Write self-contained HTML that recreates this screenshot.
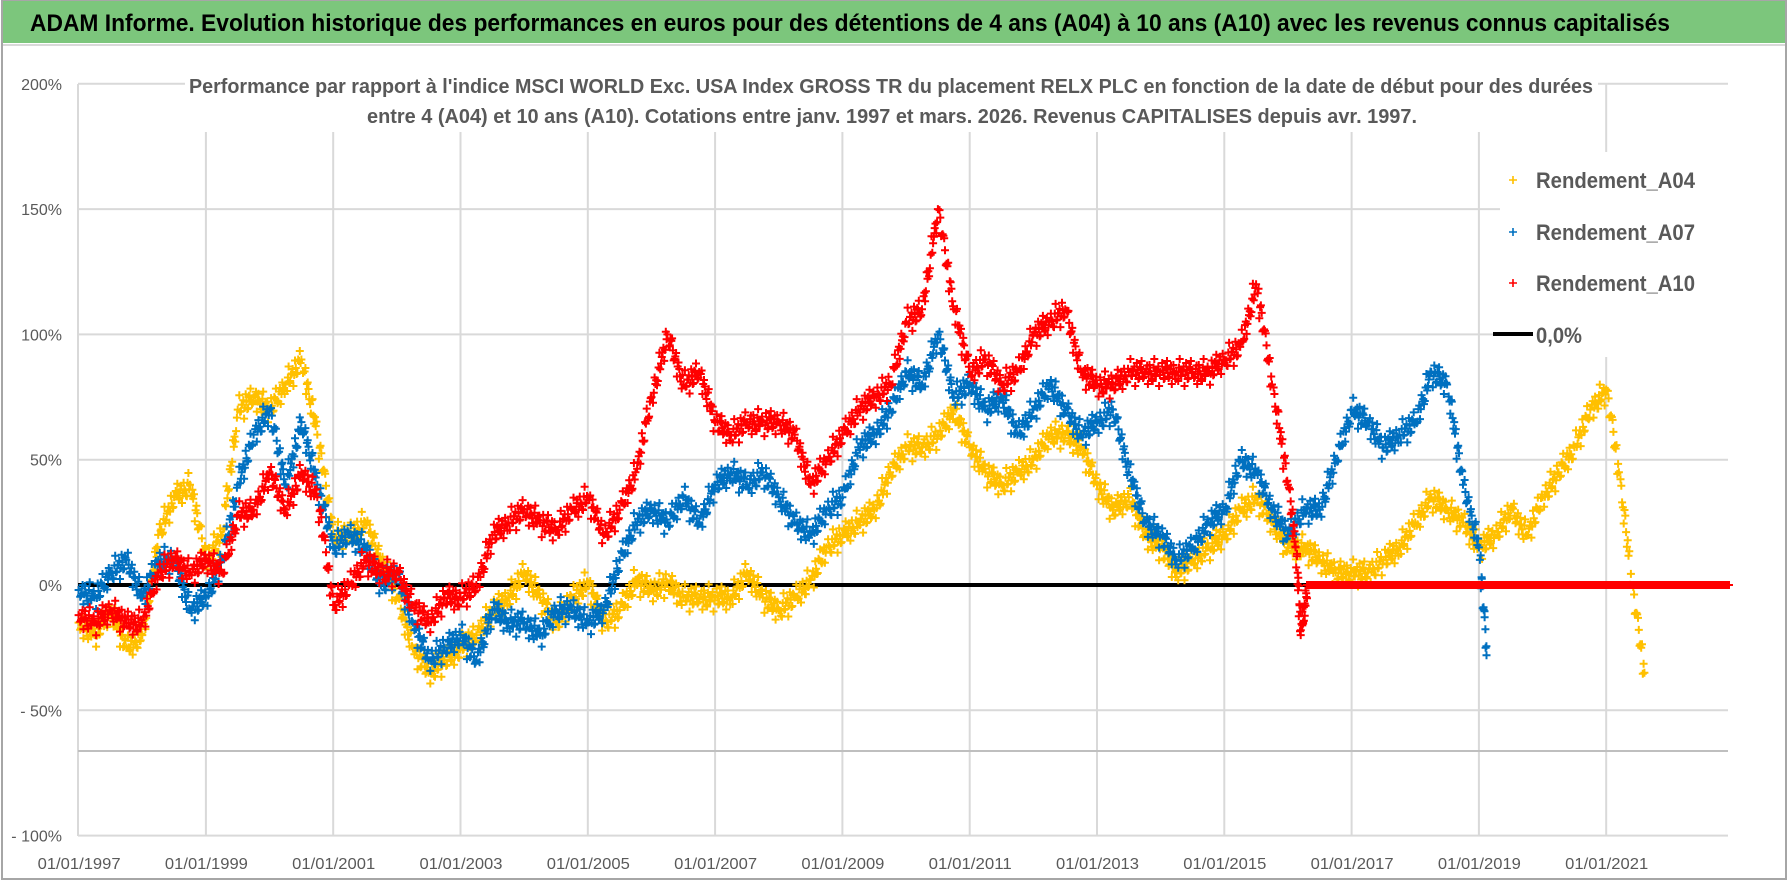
<!DOCTYPE html>
<html><head><meta charset="utf-8"><title>ADAM Informe RELX</title>
<style>
html,body{margin:0;padding:0;background:#fff;}
svg{display:block;}
text{font-family:"Liberation Sans",sans-serif;}
</style></head>
<body>
<svg id="chart" width="1790" height="886" viewBox="0 0 1790 886" xmlns="http://www.w3.org/2000/svg">
  <rect x="0" y="0" width="1790" height="886" fill="#ffffff"/>
  <rect x="2" y="0" width="1784" height="879" fill="none" stroke="#a6a6a6" stroke-width="2"/>
  <rect x="3" y="1" width="1782" height="42" fill="#7cc67c"/>
  <line x1="3" y1="45" x2="1785" y2="45" stroke="#d9d9d9" stroke-width="2"/>
  <text x="30" y="31" font-size="24" font-weight="bold" fill="#000" textLength="1640" lengthAdjust="spacingAndGlyphs">ADAM Informe. Evolution historique des performances en euros pour des détentions de 4 ans (A04) à 10 ans (A10) avec les revenus connus capitalisés</text>
  <g id="grid"></g>
  <line x1="78" y1="751" x2="1728" y2="751" stroke="#bfbfbf" stroke-width="2"/>
  <line id="zeroline" stroke="#000" stroke-width="4"/>
  <g id="marks"></g>
  <rect x="185" y="62" width="1413" height="70" fill="#fff"/>
  <text x="189" y="93" font-size="20" font-weight="bold" fill="#595959" textLength="1404" lengthAdjust="spacingAndGlyphs">Performance par rapport à l'indice MSCI WORLD Exc. USA Index GROSS TR  du placement RELX PLC en fonction de la date de début pour des durées</text>
  <text x="367" y="123" font-size="20" font-weight="bold" fill="#595959" textLength="1050" lengthAdjust="spacingAndGlyphs">entre 4 (A04) et 10 ans (A10).  Cotations entre janv. 1997 et mars. 2026. Revenus CAPITALISES depuis avr. 1997.</text>
  <g id="yaxis"></g>
  <g id="xaxis"></g>
  <g id="legend">
    <rect x="1500" y="152" width="228" height="205" fill="#fff"/>
    <g>
      <path d="M1509 180h8M1513 176v8" stroke="#ffc000" stroke-width="1.6"/>
      <text x="1536" y="188" font-size="22" font-weight="bold" fill="#595959" textLength="159" lengthAdjust="spacingAndGlyphs">Rendement_A04</text>
    </g>
    <g>
      <path d="M1509 232h8M1513 228v8" stroke="#0070c0" stroke-width="1.6"/>
      <text x="1536" y="240" font-size="22" font-weight="bold" fill="#595959" textLength="159" lengthAdjust="spacingAndGlyphs">Rendement_A07</text>
    </g>
    <g>
      <path d="M1509 283h8M1513 279v8" stroke="#ff0000" stroke-width="1.6"/>
      <text x="1536" y="291" font-size="22" font-weight="bold" fill="#595959" textLength="159" lengthAdjust="spacingAndGlyphs">Rendement_A10</text>
    </g>
    <g>
      <line x1="1493" y1="334" x2="1533" y2="334" stroke="#000" stroke-width="4"/>
      <text x="1536" y="343" font-size="22" font-weight="bold" fill="#595959" textLength="46" lengthAdjust="spacingAndGlyphs">0,0%</text>
    </g>
  </g>
</svg>
<script>
const yTicks = [200, 150, 100, 50, 0, -50, -100];
const yTickLabels = ["200%", "150%", "100%", "50%", "0%", "- 50%", "- 100%"];
const xTickYears = [1997, 1999, 2001, 2003, 2005, 2007, 2009, 2011, 2013, 2015, 2017, 2019, 2021];
const xTickLabels = ["01/01/1997","01/01/1999","01/01/2001","01/01/2003","01/01/2005","01/01/2007","01/01/2009","01/01/2011","01/01/2013","01/01/2015","01/01/2017","01/01/2019","01/01/2021"];

const datesA04 = [1997,1997.25,1997.5,1997.75,1998,1998.25,1998.5,1998.75,1999,1999.25,1999.5,1999.75,2000,2000.25,2000.5,2000.75,2001,2001.25,2001.5,2001.75,2002,2002.25,2002.5,2002.75,2003,2003.25,2003.5,2003.75,2004,2004.25,2004.5,2004.75,2005,2005.25,2005.5,2005.75,2006,2006.25,2006.5,2006.75,2007,2007.25,2007.5,2007.75,2008,2008.25,2008.5,2008.75,2009,2009.25,2009.5,2009.75,2010,2010.25,2010.5,2010.75,2011,2011.25,2011.5,2011.75,2012,2012.25,2012.5,2012.75,2013,2013.25,2013.5,2013.75,2014,2014.25,2014.5,2014.75,2015,2015.25,2015.5,2015.75,2016,2016.25,2016.5,2016.75,2017,2017.25,2017.5,2017.75,2018,2018.25,2018.5,2018.75,2019,2019.25,2019.5,2019.75,2020,2020.25,2020.5,2020.75,2021,2021.2,2021.4,2021.6];
const valuesA04 = [-15,-20,-10,-25,-20,20,35,40,10,20,70,75,70,80,90,60,20,20,25,10,-5,-25,-35,-30,-25,-20,-10,-5,5,-5,-15,-5,1,-15,-10,2,-2,1,-5,-5,-5,-5,5,-5,-10,-5,2,15,20,25,30,45,55,55,60,70,55,45,40,45,50,60,60,55,40,30,35,20,15,5,10,15,20,30,35,25,15,15,10,5,5,5,10,15,25,35,30,25,15,20,30,20,35,45,55,70,78,45,0,-35];

const datesA07 = [1997,1997.25,1997.5,1997.75,1998,1998.25,1998.5,1998.75,1999,1999.25,1999.5,1999.75,2000,2000.25,2000.5,2000.75,2001,2001.25,2001.5,2001.75,2002,2002.25,2002.5,2002.75,2003,2003.25,2003.5,2003.75,2004,2004.25,2004.5,2004.75,2005,2005.25,2005.5,2005.75,2006,2006.25,2006.5,2006.75,2007,2007.25,2007.5,2007.75,2008,2008.25,2008.5,2008.75,2009,2009.25,2009.5,2009.75,2010,2010.25,2010.5,2010.75,2011,2011.25,2011.5,2011.75,2012,2012.25,2012.5,2012.75,2013,2013.25,2013.5,2013.75,2014,2014.25,2014.5,2014.75,2015,2015.25,2015.5,2015.75,2016,2016.25,2016.5,2016.75,2017,2017.25,2017.5,2017.75,2018,2018.25,2018.5,2018.75,2019,2019.12];
const valuesA07 = [-2,-5,5,10,-5,10,10,-10,-5,10,40,60,70,40,65,40,15,20,15,0,5,-15,-30,-25,-20,-30,-10,-15,-15,-20,-10,-10,-15,-10,10,25,30,25,35,25,40,45,40,45,35,25,20,30,35,55,60,70,85,80,100,75,80,70,75,60,70,80,70,60,65,70,45,25,20,10,15,25,30,50,45,30,20,30,30,50,70,65,55,60,65,85,80,40,15,-28];

const datesA10 = [1997,1997.25,1997.5,1997.75,1998,1998.25,1998.5,1998.75,1999,1999.25,1999.5,1999.75,2000,2000.25,2000.5,2000.75,2001,2001.25,2001.5,2001.75,2002,2002.25,2002.5,2002.75,2003,2003.25,2003.5,2003.75,2004,2004.25,2004.5,2004.75,2005,2005.25,2005.5,2005.75,2006,2006.25,2006.5,2006.75,2007,2007.25,2007.5,2007.75,2008,2008.25,2008.5,2008.75,2009,2009.25,2009.5,2009.75,2010,2010.25,2010.5,2010.75,2011,2011.25,2011.5,2011.75,2012,2012.25,2012.5,2012.75,2013,2013.25,2013.5,2013.75,2014,2014.25,2014.5,2014.75,2015,2015.25,2015.5,2015.75,2016,2016.12,2016.2,2016.3,2022.93];
const valuesA10 = [-12,-15,-10,-15,-15,5,10,5,10,5,28,30,45,30,45,35,-8,0,10,5,5,-8,-15,-5,-5,0,20,25,30,25,22,30,35,20,30,45,75,100,80,85,65,60,65,65,65,60,40,50,60,70,75,80,105,110,150,110,85,90,80,85,100,105,110,85,80,80,85,85,85,85,85,85,90,95,120,80,40,15,-20,0,0];

const NS = "http://www.w3.org/2000/svg";
const X0 = 78.6, PX_PER_YEAR = 63.65, Y0 = 585, PX_PER_PCT = 2.506;
const PLOT_L = 78, PLOT_R = 1728, PLOT_T = 84, PLOT_B = 836;
function xScale(yr){ return X0 + (yr - 1997) * PX_PER_YEAR; }
function yScale(v){ return Y0 - v * PX_PER_PCT; }

const grid = document.getElementById('grid');
yTicks.forEach(function(t){
  const ln = document.createElementNS(NS,'line');
  ln.setAttribute('x1', PLOT_L); ln.setAttribute('x2', PLOT_R);
  ln.setAttribute('y1', yScale(t)); ln.setAttribute('y2', yScale(t));
  ln.setAttribute('stroke', '#d9d9d9'); ln.setAttribute('stroke-width', '2');
  
  
  grid.appendChild(ln);
});
const vl = document.createElementNS(NS,'line');
vl.setAttribute('x1', PLOT_L); vl.setAttribute('x2', PLOT_L);
vl.setAttribute('y1', PLOT_T); vl.setAttribute('y2', PLOT_B);
vl.setAttribute('stroke', '#d9d9d9'); vl.setAttribute('stroke-width', '2');


grid.appendChild(vl);
for (let yr = 1999; yr <= 2023; yr += 2) {
  const gx = xScale(yr);
  if (gx > PLOT_R + 1) break;
  const ln = document.createElementNS(NS,'line');
  ln.setAttribute('x1', gx); ln.setAttribute('x2', gx);
  ln.setAttribute('y1', PLOT_T); ln.setAttribute('y2', PLOT_B);
  ln.setAttribute('stroke', '#d9d9d9'); ln.setAttribute('stroke-width', '2');
  
  
  grid.appendChild(ln);
}

const yaxis = document.getElementById('yaxis');
yTicks.forEach(function(t, i){
  const tx = document.createElementNS(NS,'text');
  tx.setAttribute('x', 62); tx.setAttribute('y', yScale(t) + 6);
  tx.setAttribute('text-anchor', 'end'); tx.setAttribute('font-size', '16');
  tx.setAttribute('fill', '#595959');
  tx.textContent = yTickLabels[i];
  
  
  yaxis.appendChild(tx);
});
const xaxis = document.getElementById('xaxis');
xTickYears.forEach(function(yr, i){
  const tx = document.createElementNS(NS,'text');
  const cx = xScale(yr);
  tx.setAttribute('x', cx - 41); tx.setAttribute('y', 869);
  tx.setAttribute('font-size', '16'); tx.setAttribute('fill', '#595959');
  tx.setAttribute('textLength', '83'); tx.setAttribute('lengthAdjust', 'spacingAndGlyphs');
  tx.textContent = xTickLabels[i];
  
  
  xaxis.appendChild(tx);
});

const zl = document.getElementById('zeroline');
zl.setAttribute('x1', PLOT_L); zl.setAttribute('x2', PLOT_R);
zl.setAttribute('y1', yScale(0)); zl.setAttribute('y2', yScale(0));

const marks = document.getElementById('marks');
const jitter = [-11, 6, -3, 12, -7, 2, 9, -13, 4, -1, 14, -9, 7, -5];
function cross(px, py){
  return 'M' + (px-4).toFixed(1) + ' ' + py.toFixed(1) + 'h8M' + px.toFixed(1) + ' ' + (py-4).toFixed(1) + 'v8';
}
function drawSeries(dates, vals, color, name){
  const g = document.createElementNS(NS,'g');
  
  
  let d = '';
  let c = 0;
  for (let i = 0; i < dates.length; i++) {
    const xa = xScale(dates[i]), ya = yScale(vals[i]);
    d += cross(xa, ya);
    if (i + 1 < dates.length) {
      const xb = xScale(dates[i+1]), yb = yScale(vals[i+1]);
      const flat = (vals[i] === 0 && vals[i+1] === 0);
      const n = Math.max(8, Math.round((xb - xa) / 1.6));
      for (let k = 1; k < n; k++) {
        const f = k / n;
        const px = xa + (xb - xa) * f;
        const base = ya + (yb - ya) * f;
        c++;
        d += cross(px, base + (flat ? 0 : jitter[c % jitter.length]));
        if (!flat) d += cross(px + 0.8, base + jitter[(c + 5) % jitter.length] * 0.5);
      }
    }
  }
  const p = document.createElementNS(NS,'path');
  p.setAttribute('d', d);
  p.setAttribute('stroke', color);
  p.setAttribute('stroke-width', '2');
  p.setAttribute('fill', 'none');
  
  
  g.appendChild(p);
  marks.appendChild(g);
}
drawSeries(datesA04, valuesA04, '#ffc000', 'series-a04');
drawSeries(datesA07, valuesA07, '#0070c0', 'series-a07');
drawSeries(datesA10, valuesA10, '#ff0000', 'series-a10');
</script>
</body></html>
